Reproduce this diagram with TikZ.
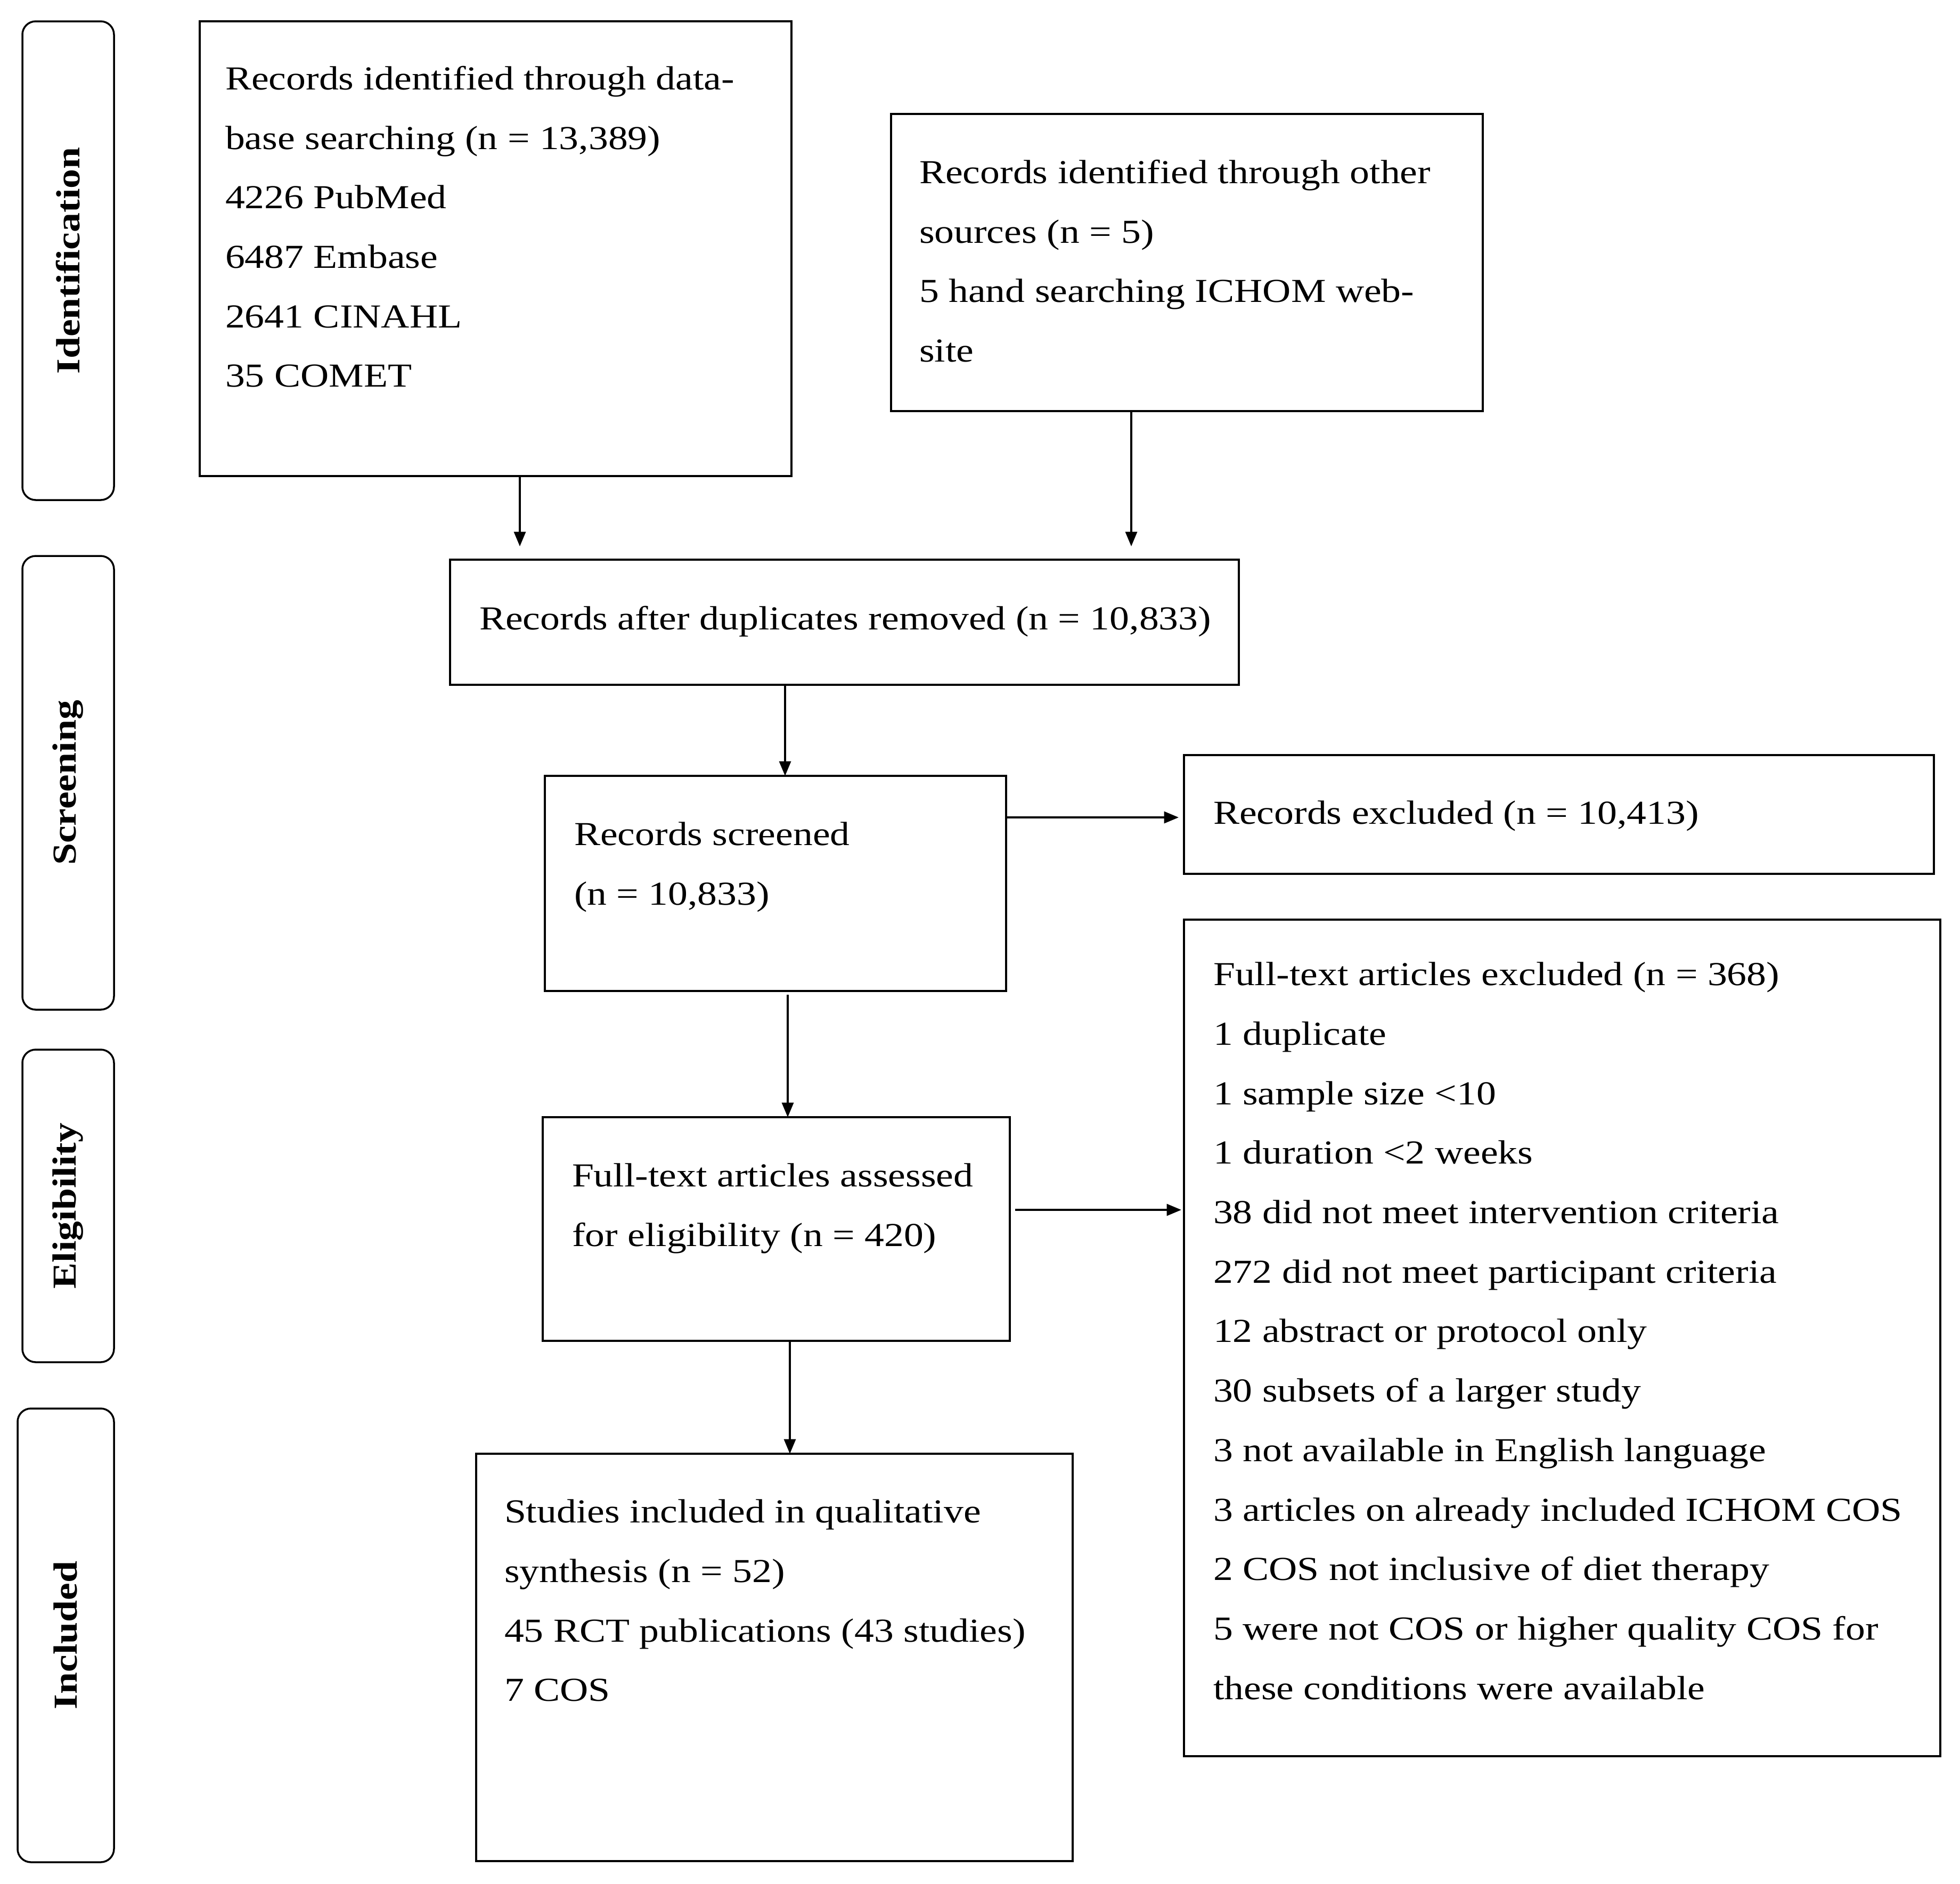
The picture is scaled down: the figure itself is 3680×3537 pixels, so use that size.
\documentclass[tikz,border=0pt]{standalone}
\usepackage{fontspec}
\setmainfont{Liberation Serif}[FakeStretch=1.17]
\usetikzlibrary{arrows.meta}
\newcommand\mkbox[6]{\node[#1, minimum width={(#5-#3)*0.2pt}, minimum height={(#6-#4)*0.2pt}] (#2) at (#3,#4) {};}
\begin{document}
\begin{tikzpicture}[x=0.2pt,y=-0.2pt,
  box/.style={draw, line width=0.9pt, inner sep=0pt, outer sep=0pt, anchor=north west},
  stage/.style={draw, line width=0.7pt, rounded corners=5pt, inner sep=0pt, outer sep=0pt, anchor=north west},
  txt/.style={anchor=north west, align=left, inner sep=0pt, font=\fontsize{12.6pt}{22.34pt}\selectfont},
  lab/.style={rotate=90, inner sep=0pt, font=\fontsize{12.6pt}{15pt}\selectfont\bfseries},
  arr/.style={-{Triangle[length=5.5pt,width=4.4pt]}, line width=0.7pt}]
\useasboundingbox (0,0) rectangle (3680,3537);
% stage boxes
\mkbox{stage}{sid}{42}{40}{214}{939}
\mkbox{stage}{sscr}{42}{1044}{214}{1896}
\mkbox{stage}{selig}{42}{1971}{214}{2558}
\mkbox{stage}{sinc}{33}{2645}{214}{3497}
\node[lab] (lid) at (sid.center) {Identification};
\node[lab] (lscr) at (sscr.center) {Screening};
\node[lab] (lelig) at (selig.center) {Eligibility};
\node[lab] (linc) at (sinc.center) {Included};
% main boxes
\mkbox{box}{A}{375}{40}{1486}{894}
\mkbox{box}{B}{1673}{214}{2784}{772}
\mkbox{box}{C}{845}{1051}{2326}{1286}
\mkbox{box}{D}{1023}{1457}{1889}{1861}
\mkbox{box}{E}{2223}{1418}{3631}{1641}
\mkbox{box}{F}{2223}{1727}{3643}{3298}
\mkbox{box}{G}{1019}{2098}{1896}{2518}
\mkbox{box}{H}{894}{2730}{2014}{3495}
% texts
\node[txt] (At) at (422,123) {Records identified through data-\\base searching (n = 13,389)\\4226 PubMed\\6487 Embase\\2641 CINAHL\\35 COMET};
\node[txt] (Bt) at (1725,299) {Records identified through other\\sources (n = 5)\\5 hand searching ICHOM web-\\site};
\node[txt] (Ct) at (899,1137) {Records after duplicates removed (n = 10,833)};
\node[txt] (Dt) at (1077,1543) {Records screened\\(n = 10,833)};
\node[txt] (Et) at (2277,1503) {Records excluded (n = 10,413)};
\node[txt] (Ft) at (2277,1806) {Full-text articles excluded (n = 368)\\1 duplicate\\1 sample size <10\\1 duration <2 weeks\\38 did not meet intervention criteria\\272 did not meet participant criteria\\12 abstract or protocol only\\30 subsets of a larger study\\3 not available in English language\\3 articles on already included ICHOM COS\\2 COS not inclusive of diet therapy\\5 were not COS or higher quality COS for\\these conditions were available};
\node[txt] (Gt) at (1073,2184) {Full-text articles assessed\\for eligibility (n = 420)};
\node[txt] (Ht) at (946,2815) {Studies included in qualitative\\synthesis (n = 52)\\45 RCT publications (43 studies)\\7 COS};
% connector coordinates
\coordinate (xa) at (976,0);
\coordinate (xb) at (2124,0);
\coordinate (xc) at (1474,0);
\coordinate (xd) at (1479,0);
\coordinate (xh) at (1483,0);
\coordinate (ye) at (0,1535);
\coordinate (yg) at (0,2272);
% connectors
\draw[arr, shorten >=5pt] (A.south -| xa) -- (C.north -| xa);
\draw[arr, shorten >=5pt] (B.south -| xb) -- (C.north -| xb);
\draw[arr] (C.south -| xc) -- (D.north -| xc);
\draw[arr, shorten >=2pt] (D.east |- ye) -- (E.west |- ye);
\draw[arr, shorten <=1.4pt] (D.south -| xd) -- (G.north -| xd);
\draw[arr, shorten <=2pt, shorten >=1pt] (G.east |- yg) -- (F.west |- yg);
\draw[arr] (G.south -| xh) -- (H.north -| xh);
\end{tikzpicture}
\end{document}
